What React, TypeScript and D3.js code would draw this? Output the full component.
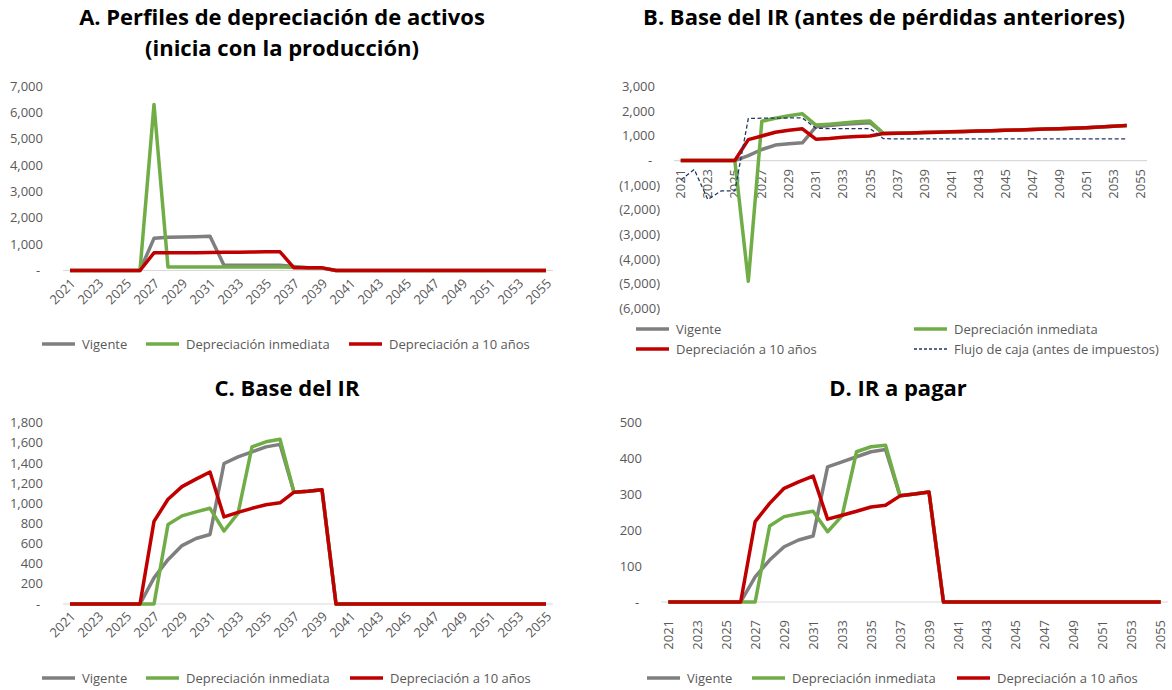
import React from "react";
import * as d3 from "d3";

// ---------- DATA ----------
const YEARS = [
  2021, 2022, 2023, 2024, 2025, 2026, 2027, 2028, 2029, 2030, 2031, 2032, 2033, 2034, 2035,
  2036, 2037, 2038, 2039, 2040, 2041, 2042, 2043, 2044, 2045, 2046, 2047, 2048, 2049, 2050,
  2051, 2052, 2053, 2054, 2055,
];
const YEAR_LABELS = [
  2021, 2023, 2025, 2027, 2029, 2031, 2033, 2035, 2037, 2039, 2041, 2043, 2045, 2047, 2049,
  2051, 2053, 2055,
];

const SERIES_NAMES = ["Vigente", "Depreciación inmediata", "Depreciación a 10 años", "Flujo de caja (antes de impuestos)"];

// A. Perfiles de depreciación (2021-2055)
const A_VIGENTE = [0, 0, 0, 0, 0, 0, 1220, 1260, 1270, 1280, 1300, 200, 200, 200, 200, 200, 150, 100, 100,
  0, 0, 0, 0, 0, 0, 0, 0, 0, 0, 0, 0, 0, 0, 0, 0];
const A_INMEDIATA = [0, 0, 0, 0, 0, 0, 6300, 130, 130, 130, 130, 130, 130, 130, 130, 130, 120, 100, 100,
  0, 0, 0, 0, 0, 0, 0, 0, 0, 0, 0, 0, 0, 0, 0, 0];
const A_DIEZ = [0, 0, 0, 0, 0, 0, 670, 670, 670, 670, 680, 690, 690, 700, 710, 710, 100, 100, 100,
  0, 0, 0, 0, 0, 0, 0, 0, 0, 0, 0, 0, 0, 0, 0, 0];

// B. Base del IR antes de pérdidas anteriores (2021-2054)
const B_VIGENTE = [0, 0, 0, 0, 0, 200, 450, 630, 680, 720, 1370, 1420, 1470, 1510, 1540,
  1100, 1110, 1120, 1140, 1150, 1170, 1180, 1200, 1210, 1230, 1240, 1260, 1280, 1290, 1310, 1330, 1360, 1390, 1420];
const B_INMEDIATA = [0, 0, 0, 0, 0, -4900, 1600, 1720, 1820, 1900, 1440, 1480, 1530, 1580, 1610,
  1100, 1110, 1120, 1140, 1150, 1170, 1180, 1200, 1210, 1230, 1240, 1260, 1280, 1290, 1310, 1330, 1360, 1390, 1420];
const B_DIEZ = [0, 0, 0, 0, 0, 850, 1000, 1150, 1230, 1290, 870, 900, 950, 980, 1000,
  1100, 1110, 1120, 1140, 1150, 1170, 1180, 1200, 1210, 1230, 1240, 1260, 1280, 1290, 1310, 1330, 1360, 1390, 1420];
const B_FLUJO = [-790, -360, -1580, -1230, -1230, 1710, 1720, 1720, 1730, 1730, 1310, 1300, 1300, 1300, 1300,
  890, 880, 880, 880, 880, 880, 880, 880, 880, 880, 880, 880, 880, 880, 880, 880, 880, 880, 880];

// C. Base del IR (2021-2055)
const C_VIGENTE = [0, 0, 0, 0, 0, 0, 260, 440, 580, 650, 690, 1395, 1460, 1510, 1560, 1585, 1110, 1120, 1135,
  0, 0, 0, 0, 0, 0, 0, 0, 0, 0, 0, 0, 0, 0, 0, 0];
const C_INMEDIATA = [0, 0, 0, 0, 0, 0, 0, 790, 875, 915, 950, 725, 900, 1560, 1610, 1635, 1110, 1120, 1135,
  0, 0, 0, 0, 0, 0, 0, 0, 0, 0, 0, 0, 0, 0, 0, 0];
const C_DIEZ = [0, 0, 0, 0, 0, 0, 820, 1040, 1165, 1240, 1310, 865, 910, 950, 985, 1005, 1110, 1120, 1135,
  0, 0, 0, 0, 0, 0, 0, 0, 0, 0, 0, 0, 0, 0, 0, 0];

// D. IR a pagar (2021-2055)
const D_VIGENTE = [0, 0, 0, 0, 0, 0, 70, 117, 154, 173, 184, 377, 391, 405, 419, 425, 296, 301, 307,
  0, 0, 0, 0, 0, 0, 0, 0, 0, 0, 0, 0, 0, 0, 0, 0];
const D_INMEDIATA = [0, 0, 0, 0, 0, 0, 0, 212, 238, 246, 253, 196, 240, 419, 433, 437, 296, 301, 307,
  0, 0, 0, 0, 0, 0, 0, 0, 0, 0, 0, 0, 0, 0, 0, 0];
const D_DIEZ = [0, 0, 0, 0, 0, 0, 224, 275, 317, 335, 351, 231, 242, 253, 265, 270, 296, 301, 307,
  0, 0, 0, 0, 0, 0, 0, 0, 0, 0, 0, 0, 0, 0, 0, 0];

const TICKS_A = [0, 1000, 2000, 3000, 4000, 5000, 6000, 7000];
const TICKS_B = [-6000, -5000, -4000, -3000, -2000, -1000, 0, 1000, 2000, 3000];
const TICKS_C = [0, 200, 400, 600, 800, 1000, 1200, 1400, 1600, 1800];
const TICKS_D = [0, 100, 200, 300, 400, 500];

// ---------- STYLE ----------
const COLORS = ["#7F7F7F", "#70AD47", "#C00000", "#1F3864"];
const FONT = "'Segoe UI', 'Open Sans', 'Noto Sans', sans-serif";
const TEXT_COLOR = "#595959";

type Series = { name: string; values: number[]; color: string; dashed?: boolean };
type LegendItem = { name: string; color: string; dashed?: boolean; x: number; y: number };

type PanelProps = {
  title: string[];
  titleX: number;
  titleY: number;
  titleSize: number;
  titleGap: number;
  x0: number;
  x1: number;
  domain: [number, number];
  yBottom: number;
  yTop: number;
  ticks: number[];
  tickX: number;
  rotate: number;
  labelY: number;
  series: Series[];
  legend: LegendItem[];
};

const fmtNum = d3.format(",");

function Panel(p: PanelProps) {
  const x = d3.scaleBand<number>().domain(YEARS).range([p.x0, p.x1]);
  const cx = (yr: number) => (x(yr) as number) + x.bandwidth() / 2;
  const y = d3.scaleLinear().domain(p.domain).range([p.yBottom, p.yTop]);
  const line = d3
    .line<number>()
    .x((_, i) => cx(YEARS[i]))
    .y((d) => y(d));
  return (
    <g fontFamily={FONT}>
      {p.title.map((t, i) => (
        <text key={i} x={p.titleX} y={p.titleY + i * p.titleGap} textAnchor="middle" fontSize={p.titleSize} fontWeight={700} fill="#000">
          {t}
        </text>
      ))}
      {p.ticks.map((t) => {
        const label = t === 0 ? "-" : t < 0 ? `(${fmtNum(-t)})` : fmtNum(t);
        const tx = t === 0 ? p.tickX - 5 : t < 0 ? p.tickX + 5 : p.tickX;
        return (
          <text key={t} x={tx} y={y(t)} dy="0.35em" textAnchor={t === 0 ? "middle" : "end"} fontSize={13} fill={TEXT_COLOR}>
            {label}
          </text>
        );
      })}
      <line x1={p.x0} x2={p.x1} y1={y(0)} y2={y(0)} stroke="#D9D9D9" strokeWidth={1.2} />
      {YEAR_LABELS.map((yr) => {
        const ax = cx(yr);
        const tr = p.rotate === -90 ? `translate(${ax},${p.labelY}) rotate(-90)` : `translate(${ax + 3},${p.labelY}) rotate(-45)`;
        return (
          <text key={yr} transform={tr} dy="0.35em" textAnchor="end" fontSize={13} fill={TEXT_COLOR}>
            {yr}
          </text>
        );
      })}
      {p.series.map((s) => (
        <path
          key={s.name}
          d={line(s.values) || ""}
          fill="none"
          stroke={s.color}
          strokeWidth={s.dashed ? 1.3 : 3.5}
          strokeDasharray={s.dashed ? "4 2.5" : undefined}
          strokeLinejoin="round"
        />
      ))}
      {p.legend.map((l) => (
        <g key={l.name}>
          <line
            x1={l.x}
            x2={l.x + 33}
            y1={l.y}
            y2={l.y}
            stroke={l.color}
            strokeWidth={l.dashed ? 1.3 : 3.5}
            strokeDasharray={l.dashed ? "3 2" : undefined}
          />
          <text x={l.x + 40} y={l.y} dy="0.35em" fontSize={13} fill={TEXT_COLOR}>
            {l.name}
          </text>
        </g>
      ))}
    </g>
  );
}

const mk3 = (v: number[], i: number[], t: number[]): Series[] => [
  { name: SERIES_NAMES[0], values: v, color: COLORS[0] },
  { name: SERIES_NAMES[1], values: i, color: COLORS[1] },
  { name: SERIES_NAMES[2], values: t, color: COLORS[2] },
];

const legend3 = (xs: number[], yy: number): LegendItem[] =>
  [0, 1, 2].map((k) => ({ name: SERIES_NAMES[k], color: COLORS[k], x: xs[k], y: yy }));

export default function App() {
  return (
    <svg width={1172} height={690} style={{ position: "absolute", left: 0, top: 0, background: "#fff" }}>
      <Panel
        title={["A. Perfiles de depreciación de activos", "(inicia con la producción)"]}
        titleX={282}
        titleY={25}
        titleSize={22}
        titleGap={31}
        x0={63}
        x1={553}
        domain={[0, 7000]}
        yBottom={270.5}
        yTop={86}
        ticks={TICKS_A}
        tickX={43}
        rotate={-45}
        labelY={281}
        series={mk3(A_VIGENTE, A_INMEDIATA, A_DIEZ)}
        legend={legend3([42, 146, 349], 344)}
      />
      <Panel
        title={["B. Base del IR (antes de pérdidas anteriores)"]}
        titleX={884}
        titleY={25}
        titleSize={22}
        titleGap={0}
        x0={674}
        x1={1147}
        domain={[-6000, 3000]}
        yBottom={308.3}
        yTop={86.7}
        ticks={TICKS_B}
        tickX={655}
        rotate={-90}
        labelY={169}
        series={[
          ...mk3(B_VIGENTE, B_INMEDIATA, B_DIEZ),
          { name: SERIES_NAMES[3], values: B_FLUJO, color: COLORS[3], dashed: true },
        ]}
        legend={[
          { name: SERIES_NAMES[0], color: COLORS[0], x: 636, y: 329 },
          { name: SERIES_NAMES[1], color: COLORS[1], x: 914, y: 329 },
          { name: SERIES_NAMES[2], color: COLORS[2], x: 636, y: 349 },
          { name: SERIES_NAMES[3], color: COLORS[3], dashed: true, x: 914, y: 349 },
        ]}
      />
      <Panel
        title={["C. Base del IR"]}
        titleX={287}
        titleY={396}
        titleSize={22}
        titleGap={0}
        x0={63}
        x1={553}
        domain={[0, 1800]}
        yBottom={604}
        yTop={422.7}
        ticks={TICKS_C}
        tickX={43}
        rotate={-45}
        labelY={614}
        series={mk3(C_VIGENTE, C_INMEDIATA, C_DIEZ)}
        legend={legend3([42, 146, 350], 678)}
      />
      <Panel
        title={["D. IR a pagar"]}
        titleX={898}
        titleY={396}
        titleSize={22}
        titleGap={0}
        x0={661}
        x1={1168}
        domain={[0, 500]}
        yBottom={602}
        yTop={422.7}
        ticks={TICKS_D}
        tickX={642}
        rotate={-90}
        labelY={620}
        series={mk3(D_VIGENTE, D_INMEDIATA, D_DIEZ)}
        legend={legend3([647, 752, 957], 678)}
      />
    </svg>
  );
}
